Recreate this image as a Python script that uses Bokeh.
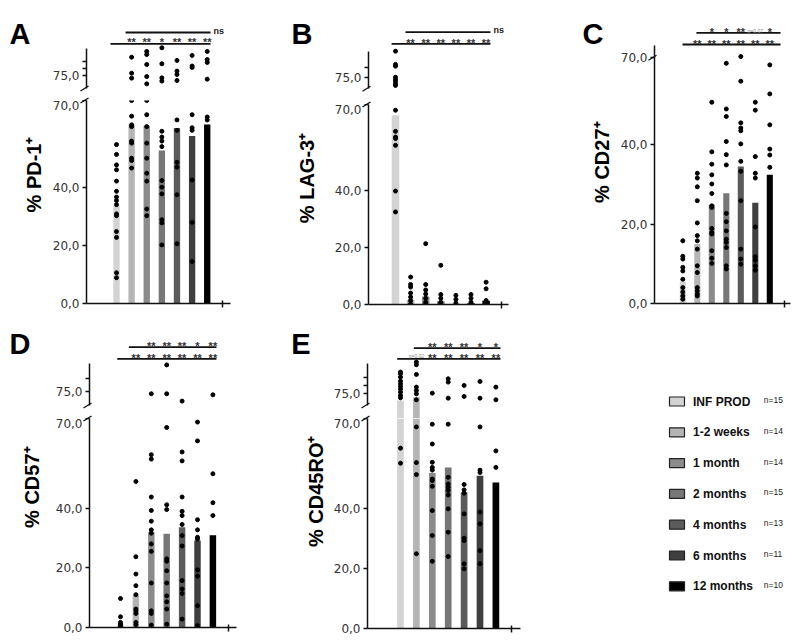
import math
from bokeh.plotting import figure
from bokeh.layouts import row, column
from bokeh.models import Range1d, FixedTicker, LinearAxis
from bokeh.embed import file_html
from bokeh.resources import INLINE
from bokeh.core.properties import value

# ---------------- data ----------------
GROUPS = ["INF PROD", "1-2 weeks", "1 month", "2  months", "4 months", "6 months", "12 months"]
N_PER_GROUP = [15, 14, 14, 15, 13, 11, 10]
BAR_COLORS = ["#d3d3d3", "#b5b5b5", "#8b8b8b", "#777777", "#5b5b5b", "#3f3f3f", "#000000"]

Y_TICKS = [0, 20, 40, 70]
Y_TICK_LABELS = ["0,0", "20,0", "40,0", "70,0"]
BREAK_TICK_LABEL = "75,0"

# A: PD-1
PD1_BARS = [33.9, 61.6, 61.3, 52.8, 60.5, 57.8, 61.7]
PD1_LOW = [
    [54.8, 51.4, 47.8, 46.1, 42.2, 38.7, 36.7, 35.5, 34.1, 30.9, 30.3, 24.8, 22.8, 10.6, 8.9],
    [70.0, 64.6, 61.6, 61.0, 56.0, 55.3, 50.1, 49.3, 46.7],
    [70.0, 65.1, 61.0, 55.3, 50.1, 44.9, 42.2, 32.6, 30.3],
    [59.4, 57.4, 56.0, 54.1, 42.4, 40.1, 37.8, 28.9, 27.8, 20.2],
    [63.3, 59.7, 48.7, 47.0, 37.5, 20.6],
    [65.1, 60.6, 59.7, 42.6, 28.0, 14.5],
    [64.3, 63.3],
]
PD1_HIGH = [[], [87.7, 76.8, 73.4], [91.6, 89.5, 82.7, 74.5, 69.5], [94.1, 83.2, 73.6, 71.4],
            [85.5, 78.2, 75.9, 71.8], [88.9, 81.6, 80.7], [91.6, 86.1, 84.1, 72.7]]
PD1_SIG_LOWER = ["", "**", "**", "*", "**", "**", "**"]
PD1_SIG_UPPER = ["", "", "", "", "", "", ""]
PD1_SIG_END = "ns"

# B: LAG-3
LAG3_BARS = [66.2, 1.6, 2.8, 1.1, 0.3, 0.5, 1.3]
LAG3_LOW = [
    [68.0, 60.6, 58.6, 58.1, 55.7, 39.7, 32.4],
    [9.6, 7.0, 6.1, 4.0, 2.6, 1.4, 0.2],
    [21.3, 7.0, 5.1, 3.7, 2.2, 0.8, 0.0],
    [13.7, 3.5, 2.2, 0.8, 0.0],
    [3.2, 1.8, 0.5],
    [3.5, 2.2, 0.8, 0.0],
    [7.8, 5.5, 1.4, 0.8, 0.2],
]
LAG3_HIGH = [[88.3, 81.7, 80.8, 75.3, 74.2, 73.2, 72.0, 71.2], [], [], [], [], [], []]
LAG3_SIG_LOWER = ["", "**", "**", "**", "**", "**", "**"]
LAG3_SIG_UPPER = ["", "", "", "", "", "", ""]
LAG3_SIG_END = "ns"

# C: CD27
CD27_BARS = [5.5, 15.0, 24.9, 27.8, 34.5, 25.4, 32.4]
CD27_LOW = [
    [15.8, 11.9, 11.2, 9.1, 8.2, 6.1, 4.0, 2.9, 1.9, 1.1],
    [32.8, 31.6, 29.4, 25.9, 20.3, 17.1, 15.8, 13.7, 9.5, 7.8, 4.0, 3.2, 2.4, 1.9],
    [50.7, 38.2, 35.1, 32.4, 30.1, 27.7, 24.6, 24.2, 18.9, 17.9, 17.5, 13.3, 11.4, 10.1],
    [60.5, 49.0, 47.1, 40.8, 37.5, 34.9, 22.7, 20.6, 18.3, 16.2, 15.4, 14.1, 9.5, 8.7],
    [62.2, 56.0, 45.5, 44.2, 43.5, 40.2, 35.8, 33.3, 25.9, 13.7, 11.2, 9.9],
    [50.7, 48.7, 37.0, 32.8, 31.6, 19.3, 11.8, 10.9, 9.5, 8.4],
    [60.1, 52.8, 45.0, 38.9, 37.4, 34.3],
]
CD27_SIG_LOWER = ["", "**", "**", "**", "**", "**", "**"]
CD27_SIG_UPPER = ["", "", "*", "*", "**", "p=0.07", "*"]
CD27_TOP_LABEL_VALUE = 61.9

# D: CD57
CD57_BARS = [1.0, 10.9, 31.9, 31.4, 33.6, 29.1, 30.9]
CD57_LOW = [
    [9.7, 3.6, 1.7, 1.1, 0.6, 0.0],
    [48.9, 23.7, 17.9, 14.0, 11.0, 6.2, 5.6, 4.7, 1.7, 0.9],
    [57.9, 56.4, 43.7, 39.2, 35.6, 32.7, 31.6, 28.0, 25.5, 14.9, 5.6, 4.7, 0.8],
    [67.0, 41.1, 39.5, 23.0, 22.2, 19.0, 14.9, 10.6, 8.6, 6.2, 1.1],
    [58.8, 55.8, 43.7, 38.9, 37.5, 34.5, 30.8, 27.3, 15.7, 12.9, 11.4, 2.8],
    [68.8, 62.5, 36.1, 32.7, 30.2, 29.6, 19.3, 17.2, 7.3, 0.6],
    [51.5, 41.8, 37.5],
]
CD57_HIGH = [[], [], [74.1], [85.5, 74.1], [71.2], [], [73.7]]
CD57_SIG_LOWER = ["", "**", "**", "**", "**", "**", "**"]
CD57_SIG_UPPER = ["", "", "**", "**", "**", "*", "**"]

# E: CD45RO
CD45RO_BARS = [71.0, 73.0, 51.8, 53.7, 45.4, 50.9, 48.7]
CD45RO_LOW = [
    [60.1, 55.1],
    [67.2, 55.3, 51.3, 24.9],
    [68.1, 61.5, 55.4, 53.7, 52.8, 49.8, 49.3, 47.4, 39.3, 31.0, 22.4],
    [68.1, 50.4, 48.2, 47.1, 46.0, 44.5, 39.9, 32.1, 24.0],
    [48.0, 46.2, 45.1, 38.2, 30.1, 29.3, 21.6, 19.9],
    [67.2, 52.8, 52.0, 38.8, 34.9, 26.0, 21.6],
    [59.2, 53.7],
]
CD45RO_HIGH = [[88.0, 87.0, 85.0, 82.6, 81.0, 79.4, 77.8, 76.0, 74.0, 72.6],
               [94.0, 92.4, 86.6, 79.0, 77.0, 75.0, 71.4],
               [75.4], [84.0, 82.0, 72.4], [80.0, 73.4], [82.4, 72.4], [79.0, 71.4]]
CD45RO_SIG_LOWER = ["", "p=0.02", "**", "**", "**", "**", "**"]
CD45RO_SIG_UPPER = ["", "", "**", "**", "**", "*", "*"]

# ---------------- layout geometry (page pixels, page origin at 0,0) ----------------
FONT = "Liberation Sans"
TICK_FONT = "DejaVu Sans"
STAR_FS = 11
INK = "#111111"

GEOM = {
    "A": dict(cx=(0, 262), fx=(86, 230), bar0=116.0, step=15.12, bw=0.42,
              up=(0, 100), y75=75.3, k=1.467, up_axis=(48, 88), up_ticks=[75, 80, 85],
              lo=(100, 323), lo_frame=(100, 303), axis_top=100, top_tick=70,
              letter=(9, 33), ylab=(33, 174),
              sig_up=(1.6, 7.22, 32.0, 28.5), sig_lo=(0.6, 7.22, 43.3, 39.0), end=(7.42, 30.0)),
    "B": dict(cx=(262, 538), fx=(368, 508), bar0=395.0, step=15.1, bw=0.5,
              up=(0, 104), y75=77.3, k=2.0, up_axis=(50.7, 88.3), up_ticks=[75, 80],
              lo=(104, 323), lo_frame=(104, 304), axis_top=104, top_tick=70,
              letter=(291, 33), ylab=(306.7, 177.5),
              sig_up=(1.66, 7.29, 31.7, 28.5), sig_lo=(0.74, 7.29, 43.3, 39.5), end=(7.49, 29.5)),
    "C": dict(cx=(538, 800), fx=(654, 790), bar0=682.3, step=14.5, bw=0.42,
              up=None, lo=(0, 323), lo_frame=(0, 303), axis_top=45, top_tick=None, top_tick_px=57.3,
              letter=(582, 33), ylab=(601.7, 161.7),
              sig_up=(1.94, 7.74, 32.3, 29.0), sig_lo=(0.98, 7.74, 44.0, 40.5), end=None),
    "D": dict(cx=(0, 262), fx=(89, 236), bar0=120.0, step=15.4, bw=0.42,
              up=(323, 418), y75=391.0, k=2.53, up_axis=(363.3, 405), up_ticks=[75, 80],
              lo=(418, 643), lo_frame=(418, 627), axis_top=418, top_tick=70,
              letter=(9, 343), ylab=(31, 486.7),
              sig_up=(1.54, 7.23, 346.7, 343.3), sig_lo=(0.79, 7.23, 358.3, 354.8), end=None),
    "E": dict(cx=(262, 538), fx=(367, 520), bar0=400.0, step=15.9, bw=0.42,
              up=(323, 418), y75=393.3, k=1.67, up_axis=(362.7, 405), up_ticks=[75, 80, 85],
              lo=(418, 643), lo_frame=(418, 628), axis_top=418, top_tick=70,
              letter=(290.7, 343), ylab=(315, 490.8),
              sig_up=(1.84, 7.29, 347.7, 343.5), sig_lo=(0.79, 7.29, 358.3, 354.5), end=None),
}


def make_fig(cx, cy, fx, fy, xr, yr):
    p = figure(width=int(cx[1] - cx[0]), height=int(cy[1] - cy[0]),
               x_range=Range1d(*xr), y_range=Range1d(*yr),
               x_axis_type=None, y_axis_type=None,
               output_backend="svg", toolbar_location=None,
               min_border_left=int(fx[0] - cx[0]), min_border_right=int(cx[1] - fx[1]),
               min_border_top=int(fy[0] - cy[0]), min_border_bottom=int(cy[1] - fy[1]))
    p.outline_line_color = None
    p.background_fill_color = "white"
    p.border_fill_color = "white"
    return p


def style_axis(ax):
    ax.axis_line_width = 1.5
    ax.axis_line_color = INK
    ax.major_tick_line_width = 1.5
    ax.major_tick_line_color = INK
    ax.minor_tick_line_color = None
    ax.major_tick_in = 0
    ax.major_tick_out = 4
    ax.major_label_text_font = TICK_FONT
    ax.major_label_text_font_size = "12px"
    ax.major_label_text_color = "#333333"
    ax.major_label_standoff = 3


def flatten(lists):
    xs, ys = [], []
    for i, vals in enumerate(lists):
        xs += [i + 1] * len(vals)
        ys += list(vals)
    return xs, ys


def draw_sig(p, yv, line, labels, end_text=None, end=None):
    x0, x1, ypx, cpx = line
    p.segment(x0=[x0], y0=[yv(ypx)], x1=[x1], y1=[yv(ypx)], line_color=INK, line_width=1.8)
    sx, sy, st, qx, qy, qt = [], [], [], [], [], []
    for i, t in enumerate(labels):
        if not t:
            continue
        if t.startswith("p"):
            qx.append(i + 1); qy.append(yv(cpx + 1)); qt.append(t)
        else:
            sx.append(i + 1); sy.append(yv(cpx + 0.23 * STAR_FS)); st.append(t)
    if st:
        p.text(x=sx, y=sy, text=st, text_font=value(FONT), text_font_style="bold",
               text_font_size=f"{STAR_FS}px", text_align="center", text_baseline="middle",
               text_color="#333333")
    if qt:
        p.text(x=qx, y=qy, text=qt, text_font=value(FONT), text_font_size="5px",
               text_align="center", text_baseline="middle", text_color="#8a8a8a")
    if end_text:
        p.text(x=[end[0]], y=[yv(end[1])], text=[end_text], text_font=value(FONT),
               text_font_style="bold", text_font_size="9px", text_align="left",
               text_baseline="middle", text_color="#222222")


def break_mark(p, xv, yv, ax_px, y_px):
    p.segment(x0=[xv(ax_px - 6)], y0=[yv(y_px + 2.5)], x1=[xv(ax_px + 2)], y1=[yv(y_px - 2.5)],
              line_color=INK, line_width=1.3, level="overlay")


def build_panel(key, bars, low, high, sig_lo, sig_up, sig_end, ylabel):
    g = GEOM[key]
    xv = lambda px: 1 + (px - g["bar0"]) / g["step"]
    xr = (xv(g["fx"][0]), xv(g["fx"][1]))
    pos = list(range(1, 8))
    ax_px = g["fx"][0]

    # lower figure
    lf = g["lo_frame"]
    k_lo = (lf[1] - lf[0]) / 70.0 if g["up"] is not None else 3.97
    yv_lo = lambda py: (lf[1] - py) / k_lo
    lo = make_fig(g["cx"], g["lo"], g["fx"], lf, xr, (yv_lo(lf[1]), yv_lo(lf[0])))
    ticks = Y_TICKS if g["top_tick"] is not None else Y_TICKS[:-1] + [CD27_TOP_LABEL_VALUE]
    yax = LinearAxis(ticker=FixedTicker(ticks=ticks),
                     major_label_overrides={t: lab for t, lab in zip(ticks, Y_TICK_LABELS)},
                     bounds=(0, yv_lo(g["axis_top"])))
    style_axis(yax)
    lo.add_layout(yax, "left")
    xax = LinearAxis(ticker=FixedTicker(ticks=[8]), major_label_overrides={8: ""})
    style_axis(xax)
    xax.major_tick_in = 3
    xax.major_label_text_font_size = "0px"
    xax.major_label_standoff = 0
    lo.add_layout(xax, "below")

    lo.vbar(x=pos, top=bars, bottom=0, width=g["bw"], fill_color=BAR_COLORS, line_color=None)
    xs, ys = flatten(low)
    lo.scatter(x=xs, y=ys, size=4, color="black")
    lo.text(x=[xv(g["ylab"][0])], y=[yv_lo(g["ylab"][1])], text=[ylabel], angle=math.pi / 2,
            text_font=value(FONT), text_font_style="bold", text_font_size="20px",
            text_align="center", text_baseline="middle", text_color="black", level="overlay")

    if g["up"] is None:
        top, yv_top = lo, yv_lo
        break_mark(lo, xv, yv_lo, ax_px, g["top_tick_px"])
        figs = lo
    else:
        uc = g["up"]
        yv_up = lambda py: 75 + (g["y75"] - py) / g["k"]
        yr_up = (yv_up(uc[1]), yv_up(uc[0]))
        up = make_fig(g["cx"], uc, g["fx"], uc, xr, yr_up)
        ut = g["up_ticks"]
        uax = LinearAxis(ticker=FixedTicker(ticks=ut),
                         major_label_overrides={t: (BREAK_TICK_LABEL if t == 75 else "") for t in ut},
                         bounds=(yv_up(g["up_axis"][1]), yv_up(g["up_axis"][0])))
        style_axis(uax)
        up.add_layout(uax, "left")
        hx = [i + 1 for i, b in enumerate(bars) if b > 70]
        hb = [b for b in bars if b > 70]
        hc = [c for c, b in zip(BAR_COLORS, bars) if b > 70]
        if hx:
            up.vbar(x=hx, top=hb, bottom=yr_up[0] - 10, width=g["bw"], fill_color=hc, line_color=None)
        xs, ys = flatten(high)
        up.scatter(x=xs, y=ys, size=4, color="black")
        for f, yv in ((up, yv_up), (lo, yv_lo)):
            break_mark(f, xv, yv, ax_px, g["up_axis"][1])
            break_mark(f, xv, yv, ax_px, lf[0])
        top, yv_top = up, yv_up
        figs = column(up, lo)

    draw_sig(top, yv_top, g["sig_lo"], sig_lo)
    draw_sig(top, yv_top, g["sig_up"], sig_up, sig_end, g["end"])
    top.text(x=[xv(g["letter"][0])], y=[yv_top(g["letter"][1])], text=[key],
             text_font=value(FONT), text_font_style="bold", text_font_size="29px",
             text_align="left", text_baseline="alphabetic", text_color="black", level="overlay")
    return figs


panel_a = build_panel("A", PD1_BARS, PD1_LOW, PD1_HIGH, PD1_SIG_LOWER, PD1_SIG_UPPER, PD1_SIG_END, "% PD-1⁺")
panel_b = build_panel("B", LAG3_BARS, LAG3_LOW, LAG3_HIGH, LAG3_SIG_LOWER, LAG3_SIG_UPPER, LAG3_SIG_END, "% LAG-3⁺")
panel_c = build_panel("C", CD27_BARS, CD27_LOW, None, CD27_SIG_LOWER, CD27_SIG_UPPER, None, "% CD27⁺")
panel_d = build_panel("D", CD57_BARS, CD57_LOW, CD57_HIGH, CD57_SIG_LOWER, CD57_SIG_UPPER, None, "% CD57⁺")
panel_e = build_panel("E", CD45RO_BARS, CD45RO_LOW, CD45RO_HIGH, CD45RO_SIG_LOWER, CD45RO_SIG_UPPER, None, "% CD45RO⁺")

# legend
leg = figure(width=262, height=320, x_range=Range1d(538, 800), y_range=Range1d(643, 323),
             x_axis_type=None, y_axis_type=None, output_backend="svg", toolbar_location=None,
             min_border_left=0, min_border_right=0, min_border_top=0, min_border_bottom=0)
leg.outline_line_color = None
row_y = [401 + 30.8 * i for i in range(len(GROUPS))]
leg.rect(x=676.5, y=row_y, width=15, height=9, fill_color=BAR_COLORS, line_color="#222222", line_width=1.2)
leg.text(x=692.5, y=row_y, text=GROUPS, text_font=value(FONT), text_font_style="bold",
         text_font_size="12px", text_align="left", text_baseline="middle", text_color="#111111")
leg.text(x=763.3, y=[y - 1.5 for y in row_y], text=[f"n={n}" for n in N_PER_GROUP],
         text_font=value(FONT), text_font_size="8.5px", text_align="left", text_baseline="middle",
         text_color="#222222")

layout = column(row(panel_a, panel_b, panel_c), row(panel_d, panel_e, leg))
open("out.html", "w").write(file_html(layout, INLINE))
